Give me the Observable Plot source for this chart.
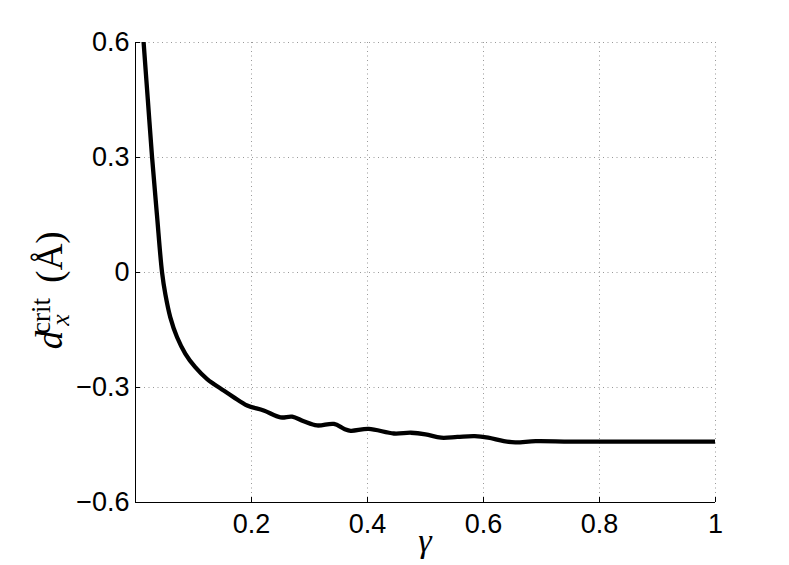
<!DOCTYPE html>
<html>
<head>
<meta charset="utf-8">
<script src="https://cdn.jsdelivr.net/npm/d3@7"></script>
<script src="https://cdn.jsdelivr.net/npm/@observablehq/plot@0.6"></script>
<style>
  html, body { margin: 0; padding: 0; background: #fff; }
  #chart { width: 789px; height: 565px; }
  #chart svg g[aria-label*="tick label"] text { font-size: 27px !important; }
</style>
</head>
<body>
<div id="chart"></div>
<script>
const gamma = [0.010, 0.014, 0.0213, 0.0286, 0.037, 0.0458, 0.0516, 0.060, 0.0717, 0.086, 0.103, 0.1235, 0.152, 0.169, 0.1925, 0.221, 0.250, 0.270, 0.290, 0.313, 0.342, 0.360, 0.371, 0.402, 0.4455, 0.475, 0.500, 0.527, 0.555, 0.585, 0.608, 0.635, 0.655, 0.690, 0.750, 0.850, 1.000];
const dcrit = [0.69, 0.60, 0.45, 0.30, 0.15, 0.00, -0.058, -0.117, -0.169, -0.212, -0.247, -0.278, -0.308, -0.325, -0.347, -0.360, -0.378, -0.376, -0.388, -0.399, -0.395, -0.408, -0.413, -0.408, -0.420, -0.418, -0.422, -0.431, -0.429, -0.427, -0.431, -0.440, -0.443, -0.440, -0.441, -0.441, -0.441];
const xTicks = [0.2, 0.4, 0.6, 0.8, 1];
const yTicks = [-0.6, -0.3, 0, 0.3, 0.6];
const xTickLabels = ["0.2", "0.4", "0.6", "0.8", "1"];
const yTickLabels = ["\u22120.6", "\u22120.3", "0", "0.3", "0.6"];

const data = gamma.map((g, i) => ({g, d: dcrit[i]}));

const tickFont = "Liberation Sans, Arial, Helvetica, sans-serif";

const plot = Plot.plot({
  width: 789,
  height: 565,
  marginLeft: 135,
  marginRight: 74,
  marginTop: 42,
  marginBottom: 63,
  style: {fontFamily: tickFont, fontSize: "27px", color: "#000", background: "#fff"},
  x: {domain: [0, 1]},
  y: {domain: [-0.6, 0.6]},
  marks: [
    Plot.gridX(xTicks, {stroke: "#999", strokeOpacity: 1, strokeDasharray: "1,3.5"}),
    Plot.gridY(yTicks, {stroke: "#999", strokeOpacity: 1, strokeDasharray: "1,3.5"}),
    Plot.axisX({ticks: xTicks, tickSize: -5, tickPadding: 16, tickFormat: (d) => xTickLabels[xTicks.indexOf(d)], label: null}),
    Plot.axisY({ticks: yTicks, tickSize: -5, tickPadding: 11, tickFormat: (d) => yTickLabels[yTicks.indexOf(d)], label: null}),
    Plot.ruleX([0], {stroke: "#000", strokeWidth: 1}),
    Plot.ruleY([-0.6], {stroke: "#000", strokeWidth: 1}),
    Plot.line(data, {x: "g", y: "d", stroke: "#000", strokeWidth: 4.3, curve: "catmull-rom", clip: true})
  ]
});

const svgNS = "http://www.w3.org/2000/svg";
function tspan(txt, attrs) {
  const t = document.createElementNS(svgNS, "tspan");
  for (const k in attrs) t.setAttribute(k, attrs[k]);
  t.textContent = txt;
  return t;
}
// y label: d_x^crit (Å)
const yl = document.createElementNS(svgNS, "text");
yl.setAttribute("transform", "translate(62,340) rotate(-90)");
yl.setAttribute("font-family", "Liberation Serif, DejaVu Serif, serif");
yl.setAttribute("font-size", "37");
yl.setAttribute("fill", "#000");
yl.append(
  tspan("d", {x: 0, y: 0, "font-style": "italic"}),
  tspan("crit", {x: 24, y: -12, "font-size": 27}),
  tspan("x", {x: 20, y: 7, "font-size": 26, "font-style": "italic"}),
  tspan("(Å)", {x: 83, y: 0})
);
plot.appendChild(yl);

// x label: γ
const xl = document.createElementNS(svgNS, "text");
xl.setAttribute("x", "425");
xl.setAttribute("y", "552");
xl.setAttribute("text-anchor", "middle");
xl.setAttribute("font-family", "Liberation Serif, DejaVu Serif, serif");
xl.setAttribute("font-style", "italic");
xl.setAttribute("font-size", "34");
xl.setAttribute("fill", "#000");
xl.textContent = "γ";
plot.appendChild(xl);

document.getElementById("chart").appendChild(plot);
</script>
</body>
</html>
